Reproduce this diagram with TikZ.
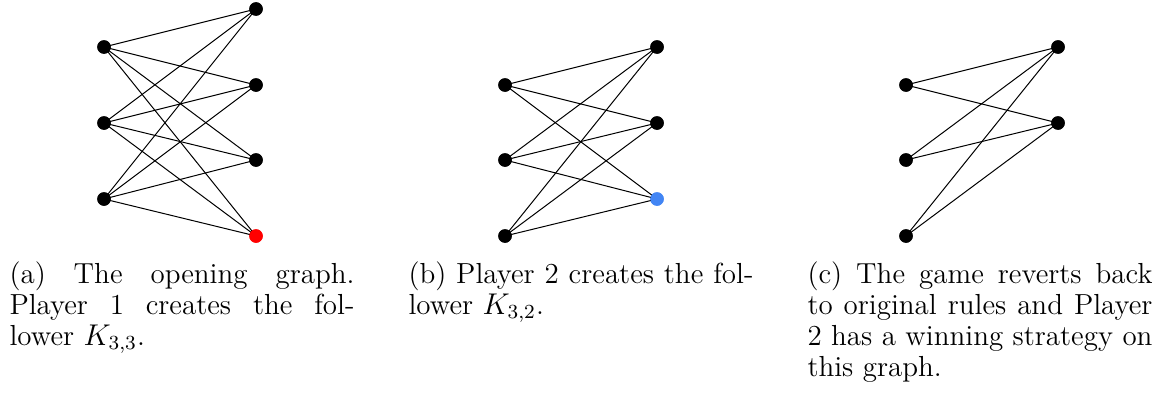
\documentclass[tikz,border=0pt]{standalone}
\usepackage{xcolor}
\definecolor{dotblue}{RGB}{66,133,244}
\definecolor{dotred}{RGB}{255,0,0}
\tikzset{
  vtx/.style={circle,fill=black,inner sep=0pt,minimum size=5.4pt},
  redvtx/.style={vtx,fill=dotred},
  bluevtx/.style={vtx,fill=dotblue},
  edge/.style={line width=0.4pt,black},
  captext/.style={text width=138pt,align=justify,inner sep=0pt,anchor=base west,font=\fontsize{11.6pt}{12.4pt}\selectfont}
}
\begin{document}
\begin{tikzpicture}[x=0.4pt,y=-0.4pt]
\useasboundingbox (0,0) rectangle (1172,400);
% (a)
\node[vtx] (a1) at (104,47) {};
\node[vtx] (a2) at (104,123) {};
\node[vtx] (a3) at (104,199) {};
\node[vtx] (ar1) at (256,9) {};
\node[vtx] (ar2) at (256,85) {};
\node[vtx] (ar3) at (256,160) {};
\node[redvtx] (ar4) at (256,236) {};
\foreach \l in {a1,a2,a3}{\foreach \r in {ar1,ar2,ar3,ar4}{\draw[edge] (\l.center) -- (\r.center);}}
\node[vtx] at (a1) {};\node[vtx] at (a2) {};\node[vtx] at (a3) {};
\node[vtx] at (ar1) {};\node[vtx] at (ar2) {};\node[vtx] at (ar3) {};\node[redvtx] at (ar4) {};
% (b)
\node[vtx] (b1) at (505,85) {};
\node[vtx] (b2) at (505,160) {};
\node[vtx] (b3) at (505,236) {};
\node[vtx] (br1) at (657,47) {};
\node[vtx] (br2) at (657,123) {};
\node[bluevtx] (br3) at (657,199) {};
\foreach \l in {b1,b2,b3}{\foreach \r in {br1,br2,br3}{\draw[edge] (\l.center) -- (\r.center);}}
\node[vtx] at (b1) {};\node[vtx] at (b2) {};\node[vtx] at (b3) {};
\node[vtx] at (br1) {};\node[vtx] at (br2) {};\node[bluevtx] at (br3) {};
% (c)
\node[vtx] (c1) at (906,85) {};
\node[vtx] (c2) at (906,160) {};
\node[vtx] (c3) at (906,236) {};
\node[vtx] (cr1) at (1058,47) {};
\node[vtx] (cr2) at (1058,123) {};
\foreach \l in {c1,c2,c3}{\foreach \r in {cr1,cr2}{\draw[edge] (\l.center) -- (\r.center);}}
\node[vtx] at (c1) {};\node[vtx] at (c2) {};\node[vtx] at (c3) {};
\node[vtx] at (cr1) {};\node[vtx] at (cr2) {};
% captions
\node[captext] (capa) at (9,283) {(a) The opening graph.\linebreak Player 1 creates the fol-\linebreak lower $K_{3,3}$.};
\node[captext] (capb) at (408,283) {(b) Player 2 creates the fol-\linebreak lower $K_{3,2}$.};
\node[captext] (capc) at (807,283) {(c) The game reverts back\linebreak to original rules and Player\linebreak 2 has a winning strategy on\linebreak this graph.};
\end{tikzpicture}
\end{document}
